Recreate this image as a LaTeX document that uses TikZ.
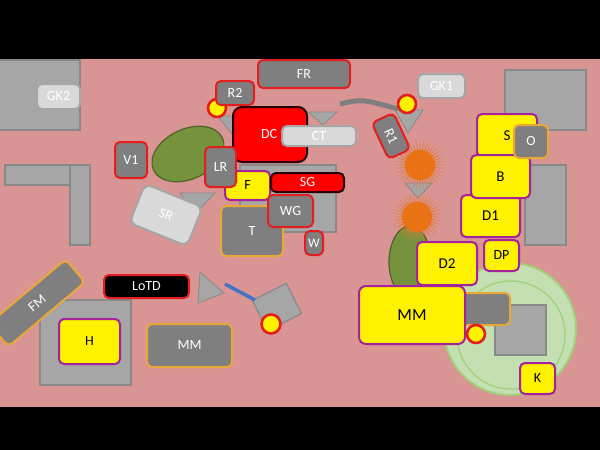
\documentclass[tikz,border=0pt]{standalone}
\usepackage{fontspec}
\setmainfont{Carlito}
\definecolor{pinkbg}{RGB}{217,149,148}
\definecolor{dgray}{RGB}{127,127,127}
\definecolor{lgray}{RGB}{217,217,217}
\definecolor{mgray}{RGB}{166,166,166}
\definecolor{rimgray}{RGB}{137,137,137}
\definecolor{bred}{RGB}{228,30,30}
\definecolor{bpurple}{RGB}{165,34,154}
\definecolor{bgold}{RGB}{232,168,56}
\definecolor{dkred}{RGB}{40,0,0}
\definecolor{olive}{RGB}{117,146,60}
\definecolor{olivedk}{RGB}{80,98,40}
\definecolor{lgreen}{RGB}{196,223,178}
\definecolor{lgreenrim}{RGB}{160,208,120}
\definecolor{sunor}{RGB}{232,114,20}
\definecolor{lineblue}{RGB}{68,114,196}
\tikzset{
  bx/.style={rounded corners=5pt, line width=2pt, inner sep=0pt, font=\fontsize{14}{16}\selectfont},
  gnode/.style={bx, fill=dgray, draw=bred, text=white},
  gold/.style={bx, fill=dgray, draw=bgold, text=white},
  lgnode/.style={bx, fill=lgray, draw=mgray, text=white},
  ynode/.style={bx, fill=yellow, draw=bpurple, text=black},
  rnode/.style={bx, fill=red, draw=dkred, text=white},
  grect/.style={fill=mgray, draw=rimgray, line width=1.2pt},
  tri/.style={fill=mgray, draw=rimgray, line width=0.8pt},
  ycirc/.style={fill=yellow, draw=bred, line width=2.6pt},
  leaf/.style={fill=olive, draw=olivedk, line width=1.2pt},
  sz/.style 2 args={minimum width=#1pt, minimum height=#2pt},
}
\newcommand{\sunburst}[2]{%
  \begin{scope}[shift={(#1,#2)}]
  \foreach \ang in {0,9,...,351} \fill[sunor!75!pinkbg] (\ang-2.6:14) -- (\ang:25) -- (\ang+2.6:14) -- cycle;
  \fill[sunor] (0,0) circle [radius=15];
  \end{scope}
}
\begin{document}
\begin{tikzpicture}[x=1pt,y=-1pt]
\useasboundingbox (0,0) rectangle (600,450);
% background
\fill[black] (0,0) rectangle (600,450);
\fill[pinkbg] (0,59) rectangle (600,407);
\begin{scope}
\clip (0,59) rectangle (600,407);
% light gray blocks
\draw[grect] (-3,60) rectangle (80,130);
\draw[grect] (5,165) rectangle (90,185);
\draw[grect] (70,165) rectangle (90,245);
\draw[grect] (505,70) rectangle (586,130);
\draw[grect] (525,165) rectangle (566,245);
\draw[grect] (40,300) rectangle (131,385);
\draw[grect] (240,165) rectangle (336,232);
% green circle area
\draw[fill=lgreen, draw=lgreenrim, line width=2pt] (510,329) circle [radius=66];
\draw[draw=lgreenrim, line width=1.2pt] (511,335) circle [radius=54];
\draw[grect] (495,305) rectangle (546,355);
% leaves
\draw[leaf, rotate around={25:(188,154)}] (188,154) ellipse [x radius=38, y radius=25];
\draw[leaf] (410,262) ellipse [x radius=21, y radius=36];
% triangles
\draw[tri] (180,193) -- (215,193) -- (193,216) -- cycle;
\draw[tri] (218,116) -- (240,116) -- (232,134) -- cycle;
\draw[tri] (308,112) -- (337,112) -- (323,125) -- cycle;
\draw[tri] (395,110) -- (423,110) -- (408,133) -- cycle;
\draw[tri] (405,183) -- (432,183) -- (418,198) -- cycle;
\draw[tri] (200,272) -- (224,293) -- (198,303) -- cycle;
% sunbursts
\sunburst{420}{165}
\sunburst{417}{217}
% gray arc
\coordinate (arcA) at (340,104);
\coordinate (arcB) at (398,109);
\draw[dgray, line width=5pt] (arcA) .. controls (362,99) .. (arcB);
% yellow dots
\draw[ycirc] (217,108) circle [radius=9];
\draw[ycirc] (407,104) circle [radius=9];
% nodes upper left
\node[gnode, sz={92}{28}] (fr) at (304,74) {FR};
\node[lgnode, sz={47}{24}] (gk1) at (441.5,86) {GK1};
\node[lgnode, sz={43}{25}] (gk2) at (58.5,96.5) {GK2};
\node[gnode, sz={38}{24}] (r2) at (235,93) {R2};
\node[rnode, sz={74}{55}, rounded corners=9pt, text width=60pt, align=left] (dc) at (270,134.5) {\hspace*{21pt}DC};
\node[lgnode, sz={74}{20}] (ct) at (319,136) {CT};
\node[gnode, sz={32}{36}] (v1) at (131,160) {V1};
\node[ynode, sz={45}{29}] (f) at (247.5,185.5) {F};
\node[gnode, sz={31}{40}] (lr) at (220.5,167) {LR};
\node[rnode, sz={73}{19}] (sg) at (307.5,182.5) {SG};
\node[gold, sz={62}{50}] (t) at (252,231) {T};
\node[gnode, sz={45}{32}] (wg) at (290.5,211) {WG};
\node[gnode, sz={18}{24}, font=\fontsize{13}{15}\selectfont] (w) at (314,243) {W};
\node[lgnode, sz={62}{42}, rotate=-22, rounded corners=7pt] (sr) at (166,215) {SR};
\node[gnode, sz={40}{24}, rotate=-65] (r1) at (391,136) {R1};
% right side
\node[ynode, sz={59}{42}, font=\fontsize{15}{17}\selectfont] (d1) at (490.5,216) {D1};
\node[ynode, sz={60}{43}, font=\fontsize{15}{17}\selectfont] (s) at (507,135.5) {S};
\node[ynode, sz={59}{43}, font=\fontsize{15}{17}\selectfont] (b) at (500.5,176.5) {B};
\node[gold, sz={34}{33}] (o) at (531,141.5) {O};
\node[ynode, sz={35}{31}] (dp) at (501.5,255.5) {DP};
\node[ynode, sz={60}{43}, font=\fontsize{15}{17}\selectfont] (d2) at (447,263.5) {D2};
\node[gold, sz={70}{32}] (gbox) at (475,309) {};
\draw[ycirc] (476,334) circle [radius=9];
\node[ynode, sz={106}{58}, rounded corners=7pt, font=\fontsize{17}{19}\selectfont] (mm1) at (412,315) {MM};
\node[ynode, sz={35}{31}] (k) at (537.5,378.5) {K};
% lower left
\node[gold, sz={100}{30}, rotate=40] (fm) at (37,303) {FM};
\node[ynode, sz={61}{45}] (h) at (89.5,341.5) {H};
\node[bx, fill=black, draw=bred, text=white, sz={85}{23}] (lotd) at (146.5,286.5) {LoTD};
\node[gold, sz={85}{43}] (mm2) at (189.5,345.5) {MM};
\node[grect, rotate=27, sz={38}{34}, inner sep=0pt] (sq) at (277,307) {};
\coordinate (bl1) at (225,284);
\coordinate (bl2) at (255,300);
\draw[lineblue, line width=3.5pt] (bl1) -- (bl2);
\draw[ycirc] (271,324) circle [radius=9.5];
\end{scope}
\end{tikzpicture}
\end{document}
